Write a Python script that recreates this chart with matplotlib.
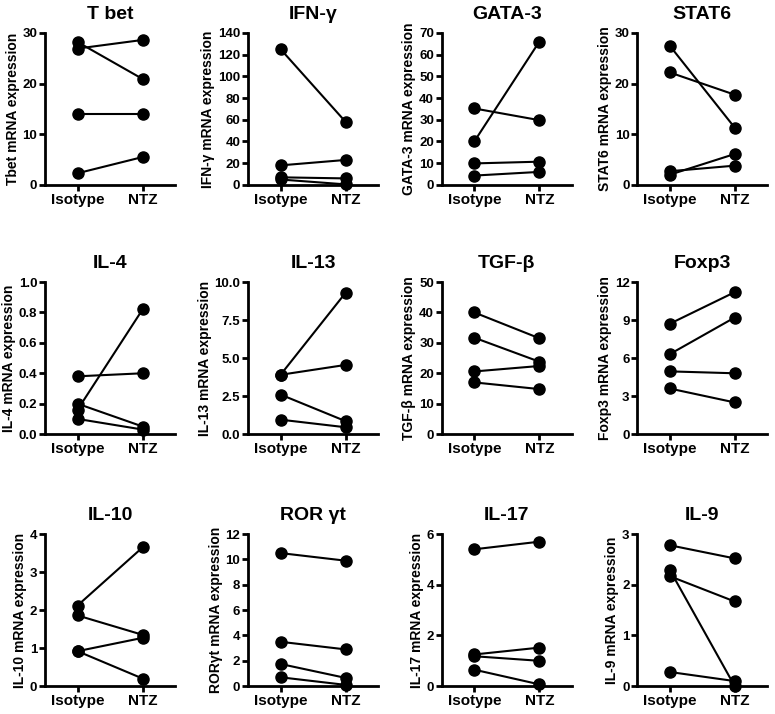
import matplotlib
matplotlib.use('Agg')
import matplotlib.pyplot as plt

plt.rcParams['font.family'] = ['Liberation Sans', 'DejaVu Sans']
plt.rcParams['font.weight'] = 'bold'

groups = ['Isotype', 'NTZ']

titles = ['T bet', 'IFN-\u03b3', 'GATA-3', 'STAT6',
          'IL-4', 'IL-13', 'TGF-\u03b2', 'Foxp3',
          'IL-10', 'ROR \u03b3t', 'IL-17', 'IL-9']
ylabels = ['Tbet', 'IFN-\u03b3', 'GATA-3', 'STAT6',
           'IL-4', 'IL-13', 'TGF-\u03b2', 'Foxp3',
           'IL-10', 'ROR\u03b3t', 'IL-17', 'IL-9']

# paired values (isotype, NTZ), one pair per animal
tbet_iso = [28.2, 26.9, 14.0, 2.3]
tbet_ntz = [20.9, 28.6, 14.0, 5.5]
ifng_iso = [125, 18, 7, 5]
ifng_ntz = [58, 23, 6, 0.5]
gata3_iso = [35.2, 20.0, 9.9, 4.3]
gata3_ntz = [29.8, 66.0, 10.7, 6.0]
stat6_iso = [27.5, 22.2, 2.7, 2.0]
stat6_ntz = [11.3, 17.8, 3.8, 6.1]
il4_iso = [0.38, 0.16, 0.20, 0.10]
il4_ntz = [0.40, 0.82, 0.05, 0.03]
il13_iso = [3.9, 3.9, 2.6, 0.95]
il13_ntz = [9.3, 4.55, 0.85, 0.45]
tgfb_iso = [40.0, 31.7, 20.6, 17.0]
tgfb_ntz = [31.5, 23.8, 22.4, 14.8]
foxp3_iso = [8.7, 6.3, 4.95, 3.6]
foxp3_ntz = [11.2, 9.2, 4.8, 2.5]
il10_iso = [2.12, 1.86, 0.92, 0.92]
il10_ntz = [3.65, 1.35, 1.27, 0.2]
rorgt_iso = [10.5, 3.5, 1.75, 0.7]
rorgt_ntz = [9.9, 2.9, 0.65, 0.1]
il17_iso = [5.4, 1.25, 1.18, 0.65]
il17_ntz = [5.7, 1.52, 1.0, 0.07]
il9_iso = [2.78, 2.17, 2.3, 0.28]
il9_ntz = [2.52, 1.67, 0.0, 0.1]

yticks = [[0, 10, 20, 30], list(range(0, 141, 20)), list(range(0, 71, 10)), [0, 10, 20, 30],
          [0.0, 0.2, 0.4, 0.6, 0.8, 1.0], [0.0, 2.5, 5.0, 7.5, 10.0], list(range(0, 51, 10)), [0, 3, 6, 9, 12],
          [0, 1, 2, 3, 4], list(range(0, 13, 2)), [0, 2, 4, 6], [0, 1, 2, 3]]
ytick_fmt = ['%d', '%d', '%d', '%d', '%.1f', '%.1f', '%d', '%d', '%d', '%d', '%d', '%d']

panels = [(tbet_iso, tbet_ntz), (ifng_iso, ifng_ntz), (gata3_iso, gata3_ntz), (stat6_iso, stat6_ntz),
          (il4_iso, il4_ntz), (il13_iso, il13_ntz), (tgfb_iso, tgfb_ntz), (foxp3_iso, foxp3_ntz),
          (il10_iso, il10_ntz), (rorgt_iso, rorgt_ntz), (il17_iso, il17_ntz), (il9_iso, il9_ntz)]

fig = plt.figure(figsize=(7.75, 7.14), dpi=100)

lefts = [0.058, 0.320, 0.570, 0.822]
bottoms = [0.741, 0.392, 0.039]
w, h = 0.168, 0.213

for i, (iso, ntz) in enumerate(panels):
    ax = fig.add_axes([lefts[i % 4], bottoms[i // 4], w, h])
    for a, b in zip(iso, ntz):
        ax.plot([0, 1], [a, b], color='black', lw=1.5, marker='o', ms=8,
                clip_on=False, zorder=3)
    ax.set_xlim(-0.5, 1.5)
    ax.set_ylim(yticks[i][0], yticks[i][-1])
    ax.set_xticks([0, 1])
    ax.set_xticklabels(groups, fontsize=11, fontweight='bold')
    ax.set_yticks(yticks[i])
    ax.set_yticklabels([ytick_fmt[i] % t for t in yticks[i]], fontsize=9.5, fontweight='bold')
    ax.set_ylabel(ylabels[i] + ' mRNA expression', fontsize=10, fontweight='bold', labelpad=2)
    ax.set_title(titles[i], fontsize=14, fontweight='bold', pad=10)
    for s in ['top', 'right']:
        ax.spines[s].set_visible(False)
    for s in ['left', 'bottom']:
        ax.spines[s].set_linewidth(2)
    ax.tick_params(width=2, length=4, direction='out', pad=1.5)

fig.savefig('out.png', dpi=100)
